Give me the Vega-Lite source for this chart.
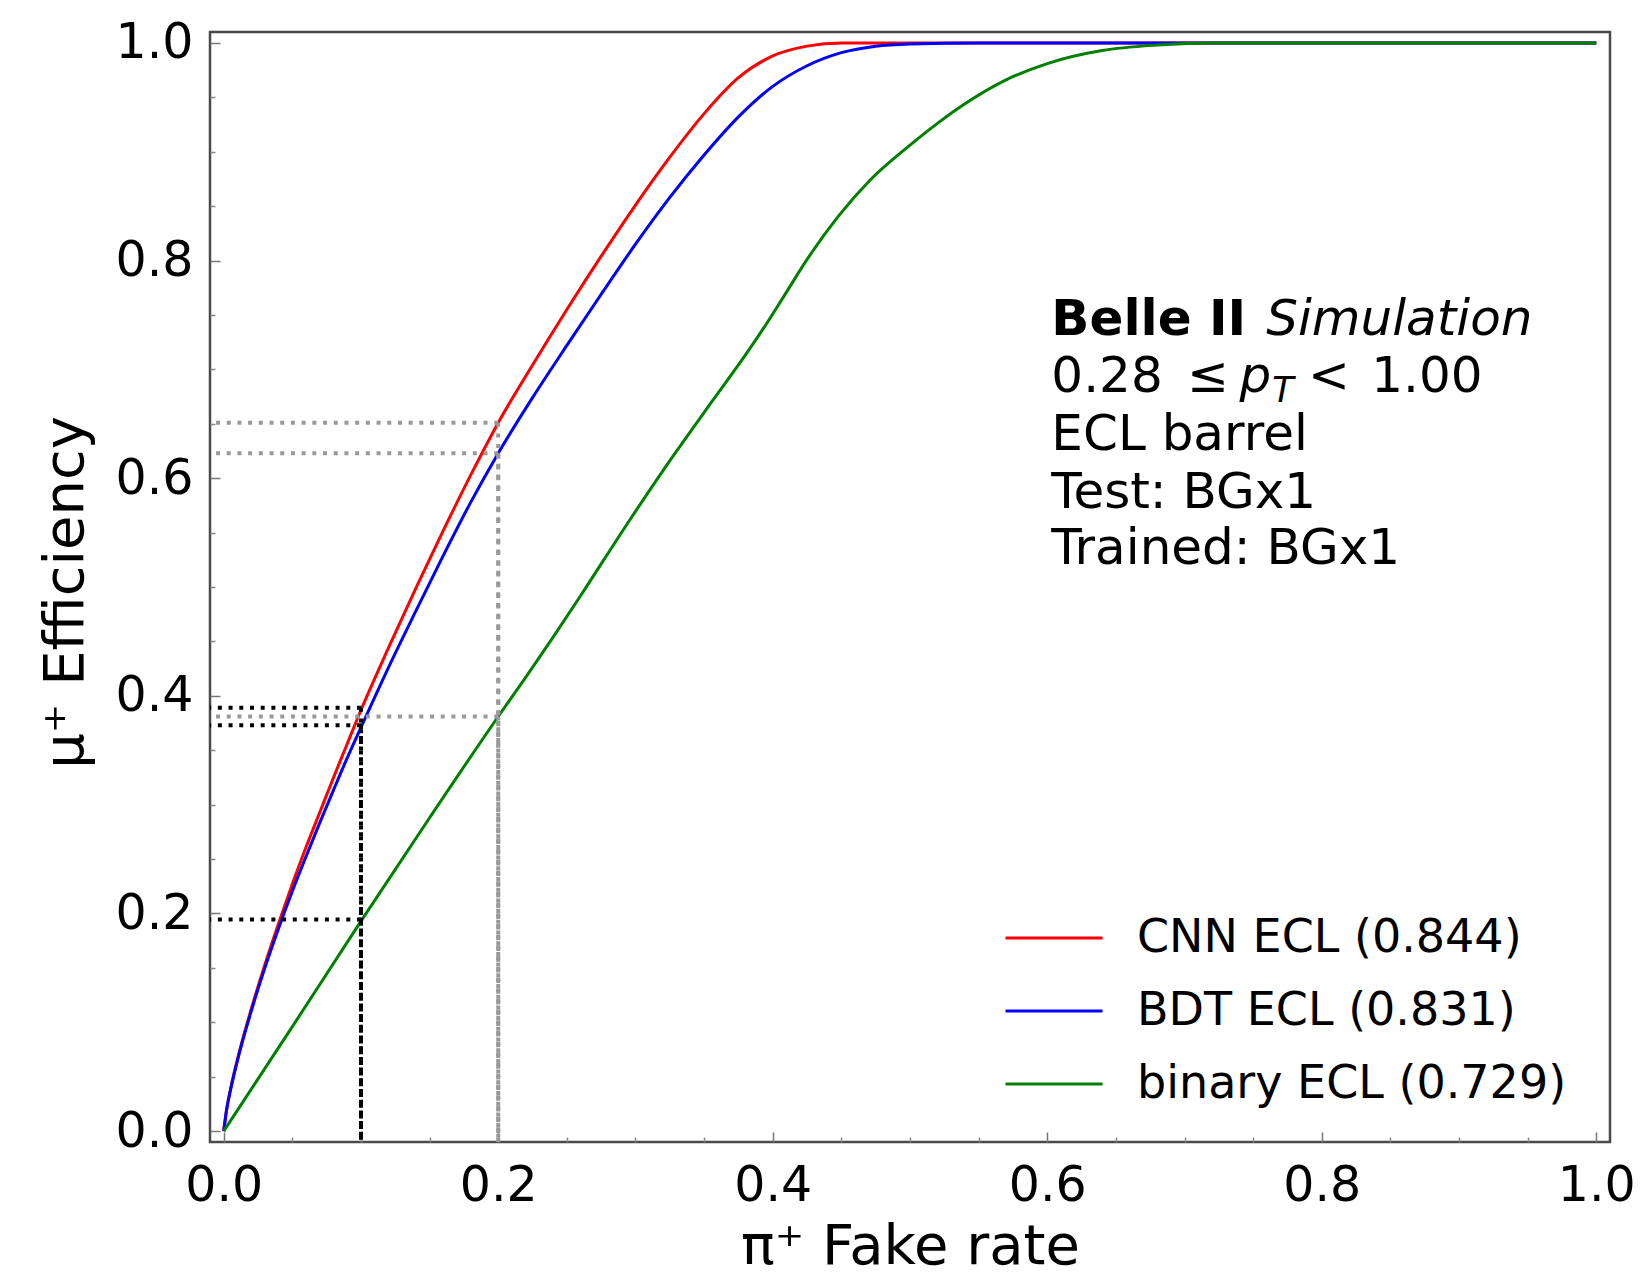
{
  "$schema": "https://vega.github.io/schema/vega-lite/v6.json",
  "width": 1400,
  "height": 1110,
  "autosize": {"type": "none"},
  "padding": {"left": 210, "top": 32, "right": 34, "bottom": 133},
  "background": "white",
  "config": {
    "font": "DejaVu Sans",
    "view": {"stroke": "#4a4a4a", "strokeWidth": 2.5},
    "axis": {"grid": false, "domain": false, "labelFont": "DejaVu Sans", "titleFont": "DejaVu Sans", "labelColor": "#000000", "titleColor": "#000000"}
  },
  "datasets": {
    "curves": [
      {"model": "CNN ECL (0.844)", "fpr": 0, "eff": 0},
      {"model": "CNN ECL (0.844)", "fpr": 0.002, "eff": 0.019},
      {"model": "CNN ECL (0.844)", "fpr": 0.005, "eff": 0.039},
      {"model": "CNN ECL (0.844)", "fpr": 0.01, "eff": 0.066},
      {"model": "CNN ECL (0.844)", "fpr": 0.02, "eff": 0.112},
      {"model": "CNN ECL (0.844)", "fpr": 0.03, "eff": 0.153},
      {"model": "CNN ECL (0.844)", "fpr": 0.04, "eff": 0.191},
      {"model": "CNN ECL (0.844)", "fpr": 0.05, "eff": 0.227},
      {"model": "CNN ECL (0.844)", "fpr": 0.06, "eff": 0.261},
      {"model": "CNN ECL (0.844)", "fpr": 0.07, "eff": 0.293},
      {"model": "CNN ECL (0.844)", "fpr": 0.08, "eff": 0.325},
      {"model": "CNN ECL (0.844)", "fpr": 0.09, "eff": 0.356},
      {"model": "CNN ECL (0.844)", "fpr": 0.1, "eff": 0.387},
      {"model": "CNN ECL (0.844)", "fpr": 0.12, "eff": 0.444},
      {"model": "CNN ECL (0.844)", "fpr": 0.14, "eff": 0.499},
      {"model": "CNN ECL (0.844)", "fpr": 0.16, "eff": 0.552},
      {"model": "CNN ECL (0.844)", "fpr": 0.18, "eff": 0.603},
      {"model": "CNN ECL (0.844)", "fpr": 0.2, "eff": 0.651},
      {"model": "CNN ECL (0.844)", "fpr": 0.225, "eff": 0.704},
      {"model": "CNN ECL (0.844)", "fpr": 0.25, "eff": 0.755},
      {"model": "CNN ECL (0.844)", "fpr": 0.275, "eff": 0.804},
      {"model": "CNN ECL (0.844)", "fpr": 0.3, "eff": 0.851},
      {"model": "CNN ECL (0.844)", "fpr": 0.325, "eff": 0.895},
      {"model": "CNN ECL (0.844)", "fpr": 0.35, "eff": 0.935},
      {"model": "CNN ECL (0.844)", "fpr": 0.375, "eff": 0.968},
      {"model": "CNN ECL (0.844)", "fpr": 0.4, "eff": 0.988},
      {"model": "CNN ECL (0.844)", "fpr": 0.425, "eff": 0.997},
      {"model": "CNN ECL (0.844)", "fpr": 0.45, "eff": 1.0},
      {"model": "CNN ECL (0.844)", "fpr": 0.5, "eff": 1.0},
      {"model": "CNN ECL (0.844)", "fpr": 1.0, "eff": 1.0},
      {"model": "BDT ECL (0.831)", "fpr": 0, "eff": 0},
      {"model": "BDT ECL (0.831)", "fpr": 0.002, "eff": 0.019},
      {"model": "BDT ECL (0.831)", "fpr": 0.005, "eff": 0.038},
      {"model": "BDT ECL (0.831)", "fpr": 0.01, "eff": 0.065},
      {"model": "BDT ECL (0.831)", "fpr": 0.02, "eff": 0.11},
      {"model": "BDT ECL (0.831)", "fpr": 0.03, "eff": 0.15},
      {"model": "BDT ECL (0.831)", "fpr": 0.04, "eff": 0.1865},
      {"model": "BDT ECL (0.831)", "fpr": 0.05, "eff": 0.2205},
      {"model": "BDT ECL (0.831)", "fpr": 0.06, "eff": 0.2525},
      {"model": "BDT ECL (0.831)", "fpr": 0.07, "eff": 0.2835},
      {"model": "BDT ECL (0.831)", "fpr": 0.08, "eff": 0.3135},
      {"model": "BDT ECL (0.831)", "fpr": 0.09, "eff": 0.343},
      {"model": "BDT ECL (0.831)", "fpr": 0.1, "eff": 0.371},
      {"model": "BDT ECL (0.831)", "fpr": 0.12, "eff": 0.426},
      {"model": "BDT ECL (0.831)", "fpr": 0.14, "eff": 0.478},
      {"model": "BDT ECL (0.831)", "fpr": 0.16, "eff": 0.529},
      {"model": "BDT ECL (0.831)", "fpr": 0.18, "eff": 0.578},
      {"model": "BDT ECL (0.831)", "fpr": 0.2, "eff": 0.623},
      {"model": "BDT ECL (0.831)", "fpr": 0.225, "eff": 0.674},
      {"model": "BDT ECL (0.831)", "fpr": 0.25, "eff": 0.722},
      {"model": "BDT ECL (0.831)", "fpr": 0.275, "eff": 0.769},
      {"model": "BDT ECL (0.831)", "fpr": 0.3, "eff": 0.815},
      {"model": "BDT ECL (0.831)", "fpr": 0.325, "eff": 0.858},
      {"model": "BDT ECL (0.831)", "fpr": 0.35, "eff": 0.897},
      {"model": "BDT ECL (0.831)", "fpr": 0.375, "eff": 0.932},
      {"model": "BDT ECL (0.831)", "fpr": 0.4, "eff": 0.96},
      {"model": "BDT ECL (0.831)", "fpr": 0.425, "eff": 0.979},
      {"model": "BDT ECL (0.831)", "fpr": 0.45, "eff": 0.991},
      {"model": "BDT ECL (0.831)", "fpr": 0.475, "eff": 0.997},
      {"model": "BDT ECL (0.831)", "fpr": 0.5, "eff": 0.999},
      {"model": "BDT ECL (0.831)", "fpr": 0.55, "eff": 1.0},
      {"model": "BDT ECL (0.831)", "fpr": 1.0, "eff": 1.0},
      {"model": "binary ECL (0.729)", "fpr": 0, "eff": 0},
      {"model": "binary ECL (0.729)", "fpr": 0.05, "eff": 0.096},
      {"model": "binary ECL (0.729)", "fpr": 0.1, "eff": 0.193},
      {"model": "binary ECL (0.729)", "fpr": 0.15, "eff": 0.288},
      {"model": "binary ECL (0.729)", "fpr": 0.2, "eff": 0.381},
      {"model": "binary ECL (0.729)", "fpr": 0.22, "eff": 0.417},
      {"model": "binary ECL (0.729)", "fpr": 0.24, "eff": 0.454},
      {"model": "binary ECL (0.729)", "fpr": 0.26, "eff": 0.492},
      {"model": "binary ECL (0.729)", "fpr": 0.295, "eff": 0.56},
      {"model": "binary ECL (0.729)", "fpr": 0.33, "eff": 0.625},
      {"model": "binary ECL (0.729)", "fpr": 0.356, "eff": 0.671},
      {"model": "binary ECL (0.729)", "fpr": 0.38, "eff": 0.713},
      {"model": "binary ECL (0.729)", "fpr": 0.395, "eff": 0.741},
      {"model": "binary ECL (0.729)", "fpr": 0.41, "eff": 0.771},
      {"model": "binary ECL (0.729)", "fpr": 0.425, "eff": 0.801},
      {"model": "binary ECL (0.729)", "fpr": 0.448, "eff": 0.841},
      {"model": "binary ECL (0.729)", "fpr": 0.471, "eff": 0.874},
      {"model": "binary ECL (0.729)", "fpr": 0.5, "eff": 0.906},
      {"model": "binary ECL (0.729)", "fpr": 0.52, "eff": 0.926},
      {"model": "binary ECL (0.729)", "fpr": 0.54, "eff": 0.944},
      {"model": "binary ECL (0.729)", "fpr": 0.57, "eff": 0.966},
      {"model": "binary ECL (0.729)", "fpr": 0.6, "eff": 0.981},
      {"model": "binary ECL (0.729)", "fpr": 0.64, "eff": 0.993},
      {"model": "binary ECL (0.729)", "fpr": 0.68, "eff": 0.998},
      {"model": "binary ECL (0.729)", "fpr": 0.72, "eff": 1.0},
      {"model": "binary ECL (0.729)", "fpr": 1.0, "eff": 1.0}
    ],
    "guides": [
      {"kind": "black", "fpr": 0.1, "eff": 0.389},
      {"kind": "black", "fpr": 0.1, "eff": 0.373},
      {"kind": "black", "fpr": 0.1, "eff": 0.1945},
      {"kind": "grey", "fpr": 0.2, "eff": 0.651},
      {"kind": "grey", "fpr": 0.2, "eff": 0.623},
      {"kind": "grey", "fpr": 0.2, "eff": 0.381}
    ],
    "one": [{}]
  },
  "resolve": {"axis": {"x": "independent", "y": "independent"}},
  "layer": [
    {
      "data": {"name": "curves"},
      "mark": {"type": "line", "strokeWidth": 3, "interpolate": "monotone"},
      "encoding": {
        "x": {
          "field": "fpr", "type": "quantitative",
          "scale": {"domain": [-0.01, 1.01], "nice": false, "zero": false},
          "axis": {
            "orient": "bottom", "values": [0, 0.2, 0.4, 0.6, 0.8, 1.0], "format": ".1f",
            "ticks": false, "labelFontSize": 49, "labelPadding": 19, "labelFlush": false, "labelOverlap": false,
            "title": "π⁺ Fake rate", "titleFontSize": 56, "titleFontWeight": "normal",
            "titleX": 700, "titleY": 121, "titleBaseline": "alphabetic", "titleAlign": "center"
          }
        },
        "y": {
          "field": "eff", "type": "quantitative",
          "scale": {"domain": [-0.01, 1.01], "nice": false, "zero": false},
          "axis": {
            "orient": "left", "values": [0, 0.2, 0.4, 0.6, 0.8, 1.0], "format": ".1f",
            "ticks": false, "labelFontSize": 49, "labelPadding": 17, "labelFlush": false, "labelOverlap": false,
            "title": "μ⁺ Efficiency", "titleFontSize": 56, "titleFontWeight": "normal",
            "titleAngle": -90, "titleX": -128, "titleY": 560, "titleBaseline": "alphabetic", "titleAlign": "center"
          }
        },
        "color": {
          "field": "model", "type": "nominal",
          "scale": {"domain": ["CNN ECL (0.844)", "BDT ECL (0.831)", "binary ECL (0.729)"], "range": ["#ff0000", "#0000ff", "#008000"]},
          "legend": {
            "orient": "none", "legendX": 794, "legendY": 856, "title": null,
            "symbolType": "stroke", "symbolSize": 9409, "symbolStrokeWidth": 3,
            "labelFontSize": 46, "labelFont": "DejaVu Sans", "labelColor": "#000000", "labelLimit": 1000,
            "labelOffset": 33, "rowPadding": -5, "padding": 0
          }
        }
      }
    },
    {
      "data": {"name": "guides"},
      "transform": [{"filter": "datum.kind === 'black'"}],
      "mark": {"type": "rule", "color": "#000000", "strokeWidth": 4, "strokeDash": [4, 6.7]},
      "encoding": {
        "x": {
          "field": "fpr", "type": "quantitative",
          "scale": {"domain": [-0.01, 1.01], "nice": false, "zero": false},
          "axis": {"orient": "bottom", "values": [0, 0.2, 0.4, 0.6, 0.8, 1.0], "labels": false, "ticks": true, "tickSize": -10, "tickWidth": 1.5, "tickColor": "#777777", "title": null}
        },
        "y": {
          "field": "eff", "type": "quantitative",
          "scale": {"domain": [-0.01, 1.01], "nice": false, "zero": false},
          "axis": {"orient": "left", "values": [0, 0.2, 0.4, 0.6, 0.8, 1.0], "labels": false, "ticks": true, "tickSize": -10, "tickWidth": 1.5, "tickColor": "#777777", "title": null}
        },
        "y2": {"datum": -0.01}
      }
    },
    {
      "data": {"name": "guides"},
      "transform": [{"filter": "datum.kind === 'grey'"}],
      "mark": {"type": "rule", "color": "#999999", "strokeWidth": 4, "strokeDash": [4, 6.7]},
      "encoding": {
        "x": {
          "field": "fpr", "type": "quantitative",
          "scale": {"domain": [-0.01, 1.01], "nice": false, "zero": false},
          "axis": {"orient": "bottom", "values": [0.05, 0.1, 0.15, 0.25, 0.3, 0.35, 0.45, 0.5, 0.55, 0.65, 0.7, 0.75, 0.85, 0.9, 0.95], "labels": false, "ticks": true, "tickSize": -5, "tickWidth": 1.5, "tickColor": "#888888", "title": null}
        },
        "y": {
          "field": "eff", "type": "quantitative",
          "scale": {"domain": [-0.01, 1.01], "nice": false, "zero": false},
          "axis": {"orient": "left", "values": [0.05, 0.1, 0.15, 0.25, 0.3, 0.35, 0.45, 0.5, 0.55, 0.65, 0.7, 0.75, 0.85, 0.9, 0.95], "labels": false, "ticks": true, "tickSize": -5, "tickWidth": 1.5, "tickColor": "#888888", "title": null}
        },
        "y2": {"datum": -0.01}
      }
    },
    {
      "data": {"name": "guides"},
      "transform": [{"filter": "datum.kind === 'black'"}],
      "mark": {"type": "rule", "color": "#000000", "strokeWidth": 4, "strokeDash": [4, 6.7]},
      "encoding": {
        "y": {"field": "eff", "type": "quantitative", "axis": null},
        "x": {"field": "fpr", "type": "quantitative", "axis": null},
        "x2": {"datum": -0.01}
      }
    },
    {
      "data": {"name": "guides"},
      "transform": [{"filter": "datum.kind === 'grey'"}],
      "mark": {"type": "rule", "color": "#999999", "strokeWidth": 4, "strokeDash": [4, 6.7]},
      "encoding": {
        "y": {"field": "eff", "type": "quantitative", "axis": null},
        "x": {"field": "fpr", "type": "quantitative", "axis": null},
        "x2": {"datum": -0.01}
      }
    },
    {
      "data": {"name": "one"},
      "mark": {"type": "text", "text": "Belle II", "fontWeight": "bold", "fontSize": 50, "align": "left", "baseline": "alphabetic", "color": "#000000"},
      "encoding": {"x": {"datum": 0.603, "type": "quantitative", "axis": null}, "y": {"datum": 0.7315, "type": "quantitative", "axis": null}}
    },
    {
      "data": {"name": "one"},
      "mark": {"type": "text", "text": "Simulation", "fontStyle": "italic", "fontSize": 50, "align": "left", "baseline": "alphabetic", "color": "#000000"},
      "encoding": {"x": {"datum": 0.7595, "type": "quantitative", "axis": null}, "y": {"datum": 0.7315, "type": "quantitative", "axis": null}}
    },
    {
      "data": {"name": "one"},
      "mark": {"type": "text", "text": "0.28", "fontSize": 50, "align": "left", "baseline": "alphabetic", "color": "#000000"},
      "encoding": {"x": {"datum": 0.603, "type": "quantitative", "axis": null}, "y": {"datum": 0.679, "type": "quantitative", "axis": null}}
    },
    {
      "data": {"name": "one"},
      "mark": {"type": "text", "text": "≤", "fontSize": 50, "align": "left", "baseline": "alphabetic", "color": "#000000"},
      "encoding": {"x": {"datum": 0.702, "type": "quantitative", "axis": null}, "y": {"datum": 0.679, "type": "quantitative", "axis": null}}
    },
    {
      "data": {"name": "one"},
      "mark": {"type": "text", "text": "p", "fontStyle": "italic", "fontSize": 50, "align": "left", "baseline": "alphabetic", "color": "#000000"},
      "encoding": {"x": {"datum": 0.74, "type": "quantitative", "axis": null}, "y": {"datum": 0.679, "type": "quantitative", "axis": null}}
    },
    {
      "data": {"name": "one"},
      "mark": {"type": "text", "text": "T", "fontStyle": "italic", "fontSize": 35, "align": "left", "baseline": "alphabetic", "color": "#000000"},
      "encoding": {"x": {"datum": 0.764, "type": "quantitative", "axis": null}, "y": {"datum": 0.67, "type": "quantitative", "axis": null}}
    },
    {
      "data": {"name": "one"},
      "mark": {"type": "text", "text": "<", "fontSize": 50, "align": "left", "baseline": "alphabetic", "color": "#000000"},
      "encoding": {"x": {"datum": 0.79, "type": "quantitative", "axis": null}, "y": {"datum": 0.679, "type": "quantitative", "axis": null}}
    },
    {
      "data": {"name": "one"},
      "mark": {"type": "text", "text": "1.00", "fontSize": 50, "align": "left", "baseline": "alphabetic", "color": "#000000"},
      "encoding": {"x": {"datum": 0.836, "type": "quantitative", "axis": null}, "y": {"datum": 0.679, "type": "quantitative", "axis": null}}
    },
    {
      "data": {"name": "one"},
      "mark": {"type": "text", "text": "ECL barrel", "fontSize": 50, "align": "left", "baseline": "alphabetic", "color": "#000000"},
      "encoding": {"x": {"datum": 0.603, "type": "quantitative", "axis": null}, "y": {"datum": 0.626, "type": "quantitative", "axis": null}}
    },
    {
      "data": {"name": "one"},
      "mark": {"type": "text", "text": "Test: BGx1", "fontSize": 50, "align": "left", "baseline": "alphabetic", "color": "#000000"},
      "encoding": {"x": {"datum": 0.603, "type": "quantitative", "axis": null}, "y": {"datum": 0.573, "type": "quantitative", "axis": null}}
    },
    {
      "data": {"name": "one"},
      "mark": {"type": "text", "text": "Trained: BGx1", "fontSize": 50, "align": "left", "baseline": "alphabetic", "color": "#000000"},
      "encoding": {"x": {"datum": 0.603, "type": "quantitative", "axis": null}, "y": {"datum": 0.521, "type": "quantitative", "axis": null}}
    }
  ]
}
